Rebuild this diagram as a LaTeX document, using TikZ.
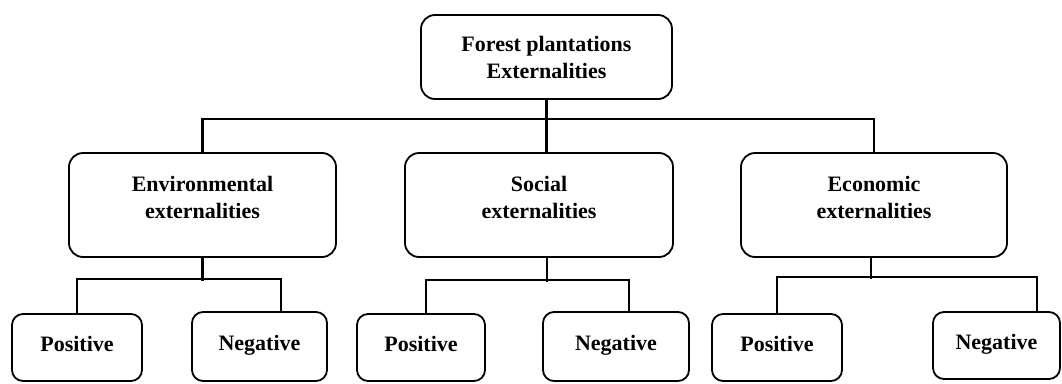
\documentclass[tikz,border=0pt]{standalone}
\usepackage{fontspec}
\setmainfont{Liberation Serif}
\usepackage{tikz}
\tikzset{
  box/.style={draw, line width=1.8pt, rounded corners=14pt, align=center, inner sep=0pt,
    font=\bfseries\fontsize{22}{27}\selectfont},
  midbox/.style={box, minimum height=104pt, text depth=16pt},
  leafbox/.style={box, rounded corners=11pt, text depth=8pt},
  link/.style={line width=2.8pt},
  sublink/.style={line width=2pt}
}
\begin{document}
\begin{tikzpicture}[x=1pt,y=-1pt]
		\useasboundingbox (0,0) rectangle (1062,383);
		\node[box, minimum width=251pt, minimum height=84pt, text depth=0pt] (top) at (546.5,57) {Forest plantations\\Externalities};
		\node[midbox, minimum width=267pt] (env) at (202.5,205) {Environmental\\externalities};
		\node[midbox, minimum width=268pt] (soc) at (539,205) {Social\\externalities};
		\node[midbox, minimum width=266pt] (eco) at (874,205) {Economic\\externalities};
		\node[leafbox, minimum width=130pt, minimum height=67pt] (envpos) at (77,347.5) {Positive};
		\node[leafbox, minimum width=135pt, minimum height=69pt] (envneg) at (259.5,346.5) {Negative};
		\node[leafbox, minimum width=128pt, minimum height=67pt] (socpos) at (421,347.5) {Positive};
		\node[leafbox, minimum width=146pt, minimum height=69pt] (socneg) at (616,346.5) {Negative};
		\node[leafbox, minimum width=130pt, minimum height=67pt] (ecopos) at (777,347.5) {Positive};
		\node[leafbox, minimum width=127pt, minimum height=67pt] (econeg) at (996.5,345.5) {Negative};
		\coordinate (bus) at (0,119);
		\draw[link] (top.south) -- (top.south |- bus);
		\draw[link] (env.north) -- (env.north |- bus) -- (eco.north |- bus) -- (eco.north);
		\draw[link] (top.south |- bus) -- (top.south |- soc.north);
		\draw[link] (env.south) -- ++(0,23);
		\draw[sublink] (envpos.north) -- ++(0,-34) -| ([xshift=21pt]envneg.north);
		\draw[link] ([xshift=8pt]soc.south) -- ++(0,24);
		\draw[sublink] ([xshift=5pt]socpos.north) -- ++(0,-33) -| ([xshift=13pt]socneg.north);
		\draw[link] ([xshift=-3pt]eco.south) -- ++(0,21);
		\draw[sublink] (ecopos.north) -- ++(0,-36) -| ([xshift=40pt]econeg.north);
	\end{tikzpicture}
\end{document}
